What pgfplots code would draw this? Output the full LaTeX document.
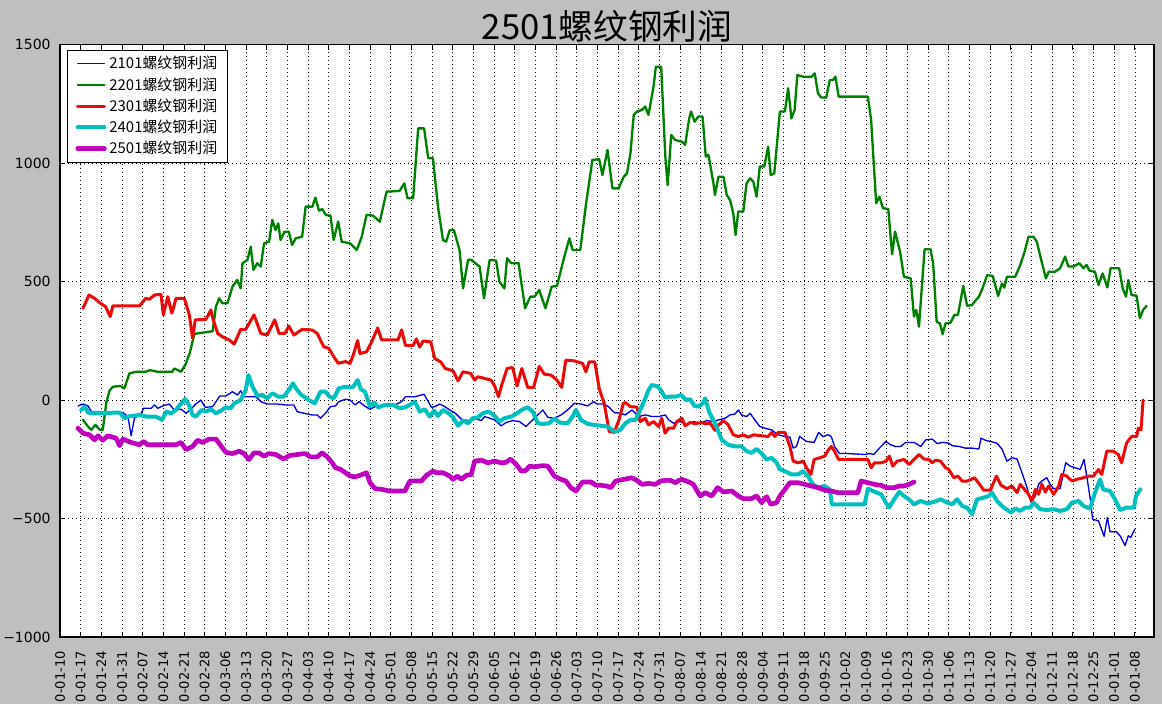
\documentclass[border=0pt]{standalone}
\usepackage{fontspec}
\setmainfont{DejaVu Sans}
\newfontfamily\cjk{Noto Sans CJK SC}
\usepackage{pgfplots}
\pgfplotsset{compat=1.18}
\definecolor{bgray}{RGB}{191,191,191}
\definecolor{cB}{RGB}{0,0,230}
\definecolor{cG}{RGB}{0,128,0}
\definecolor{cR}{RGB}{235,10,10}
\definecolor{cC}{RGB}{0,191,191}
\definecolor{cM}{RGB}{191,0,191}
\begin{document}
\begin{tikzpicture}
\fill[bgray] (0,0) rectangle (871.5pt,528pt);
\useasboundingbox (0,0) rectangle (871.5pt,528pt);
\begin{axis}[
  at={(45pt,50.25pt)}, anchor=south west,
  width=820.5pt, height=444.4pt, scale only axis,
  xmin=0, xmax=370.5, ymin=-1000, ymax=1500,
  axis background/.style={fill=white},
  axis line style={line width=0.8pt},
  tick align=inside, major tick length=4pt,
  tick style={black, line width=0.6pt},
  grid=major,
  major grid style={black, line width=0.45pt, dash pattern=on 1pt off 2pt},
  xtick={0,7,...,364},
  xticklabels={0-01-10,0-01-17,0-01-24,0-01-31,0-02-07,0-02-14,0-02-21,0-02-28,0-03-06,0-03-13,0-03-20,0-03-27,0-04-03,0-04-10,0-04-17,0-04-24,0-05-01,0-05-08,0-05-15,0-05-22,0-05-29,0-06-05,0-06-12,0-06-19,0-06-26,0-07-03,0-07-10,0-07-17,0-07-24,0-07-31,0-08-07,0-08-14,0-08-21,0-08-28,0-09-04,0-09-11,0-09-18,0-09-25,0-10-02,0-10-09,0-10-16,0-10-23,0-10-30,0-11-06,0-11-13,0-11-20,0-11-27,0-12-04,0-12-11,0-12-18,0-12-25,0-01-01,0-01-08},
  xticklabel style={rotate=90, anchor=east, font=\fontsize{9.8}{10}\selectfont},
  xticklabel shift=7pt,
  ytick={-1000,-500,0,500,1000,1500},
  yticklabels={−1000,−500,0,500,1000,1500},
  yticklabel style={font=\fontsize{10.5}{12}\selectfont},
  yticklabel shift=3.5pt,
  title={\cjk 2501螺纹钢利润},
  title style={font=\fontsize{26}{30}\selectfont, anchor=base, at={(0.5,1)}, yshift=-2.5pt},
  legend style={at={(0,1)}, anchor=north west, xshift=5.25pt, yshift=-4.1pt,
    draw=black, line width=0.6pt, fill=white,
    font=\cjk\fontsize{11.2}{13}\selectfont, row sep=1pt,
    inner xsep=6pt, inner ysep=2.5pt},
  legend cell align=left,
  legend image code/.code={\draw[#1] (0pt,0pt) -- (20pt,0pt);},
  every axis plot/.append style={line join=round, line cap=round},
]
% 2101
\addplot[cB, line width=1.0pt] coordinates {
(6.1,-25) (7.8,-17) (9.5,-25) (10.6,-49) (14,-49) (16.8,-56) (21.3,-53) (23,-70) (24.1,-151) (25.2,-77) (27.5,-56) (28.3,-35) (30.9,-35) (32,-21) (33.1,-35) (34.8,-25) (37,-17) (38.7,-42) (41,-39) (42.7,-56) (44.3,-39) (46,-17) (47.7,0) (49.2,-31) (51.7,-28) (54.1,17) (56.2,17) (58.4,35) (60.1,21) (61.2,39) (62.3,14) (66.3,14) (68,-7) (70.2,-17) (73.6,-17) (76.4,-21) (79.2,-21) (80.3,-49) (82.6,-56) (85.4,-63) (87.1,-63) (88.2,-77) (89.9,-56) (91.6,-28) (93.3,-25) (94.4,-7) (96.7,3) (98.2,0) (99.9,-21) (101.3,-7) (103.1,-25) (105,-39) (107.2,-25) (110,-21) (112.8,-25) (115.7,-7) (117,14) (120.2,14) (123.3,24) (125.8,-31) (126.9,-28) (128.6,-17) (130.3,-28) (132,-42) (133.9,-56) (135.9,-81) (138.2,-87) (140.4,-77) (142.7,-87) (143.8,-70) (145.5,-77) (147.2,-84) (149.4,-109) (151.1,-95) (153.3,-87) (155.6,-91) (157.8,-112) (159.5,-91) (161.8,-63) (163.5,-42) (165.2,-73) (167.4,-77) (169.7,-63) (171.9,-42) (174.2,-14) (176.4,-17) (178.7,-25) (180.7,-7) (182,-17) (184.3,-17) (186,-31) (187.7,-53) (189.8,-56) (191.5,-63) (193.7,-42) (196,-70) (198.2,-63) (200.5,-70) (202.7,-70) (205,-63) (206.1,-84) (207.8,-98) (210,-91) (212.3,-105) (214.5,-91) (216.8,-98) (219,-87) (221.3,-91) (223,-84) (225.2,-77) (226.9,-63) (228.6,-59) (229.7,-42) (230.8,-63) (232.5,-70) (233.7,-56) (235.3,-84) (237,-112) (238.7,-119) (241,-126) (243.2,-147) (245.5,-154) (247.2,-157) (248.3,-203) (249.4,-196) (250.5,-154) (252.8,-175) (255.4,-179) (256.9,-137) (258.4,-154) (260.1,-147) (261.2,-154) (262.3,-196) (264,-226) (266.8,-226) (272.5,-230) (274.2,-226) (275.6,-230) (277.5,-203) (279.7,-175) (281.3,-189) (283,-196) (284.7,-196) (286.4,-179) (289.2,-179) (291.5,-196) (293.2,-168) (295.4,-165) (297.1,-184) (298.8,-179) (301,-182) (302.2,-193) (304.4,-196) (306.6,-203) (308.9,-203) (311.2,-207) (311.9,-161) (313.4,-170) (315.1,-175) (317.3,-182) (319,-207) (320.7,-258) (322.4,-244) (324.1,-249) (325.8,-307) (327.5,-370) (328.8,-430) (330.3,-405) (331.4,-356) (332.5,-342) (334.2,-328) (335.3,-356) (336.5,-374) (338.7,-374) (340.6,-265) (342.1,-279) (343.8,-286) (345.5,-293) (346.8,-251) (347.9,-335) (349.1,-433) (349.7,-503) (351.7,-510) (353.6,-575) (354.7,-496) (355.6,-556) (357.8,-556) (359,-573) (360.7,-614) (361.8,-573) (362.6,-580) (364,-545)
};
\addlegendentry{2101螺纹钢利润}
% 2201
\addplot[cG, line width=1.75pt] coordinates {
(7.8,-84) (9.5,-112) (10.6,-126) (12,-105) (13.5,-126) (14.5,-126) (15.7,-10) (16.8,40) (17.9,56) (20.5,59) (21.8,49) (23.5,112) (25.8,119) (29,119) (30.5,126) (33,119) (38,119) (38.7,133) (41,119) (42.5,150) (44,200) (45.5,279) (49.4,286) (51.7,290) (52.8,394) (53.9,429) (55,408) (56.7,408) (58.4,478) (60,506) (61.2,471) (61.8,577) (63.5,591) (64.6,647) (65.5,549) (66.8,577) (68,563) (69.1,661) (70.8,668) (71.9,760) (73,717) (73.9,745) (74.7,675) (76,710) (77.5,710) (78.6,654) (79.8,682) (82,689) (83.2,816) (85.5,816) (86.5,854) (87.7,799) (88.8,806) (90,781) (91.6,778) (92.7,675) (94.2,753) (95.4,668) (98.2,661) (100.5,633) (102.2,689) (103.8,781) (106,778) (108.3,752) (110.6,879) (115,882) (116.6,914) (117.7,851) (119.6,851) (121.3,1146) (123.3,1146) (124.7,1020) (126.3,1020) (128,816) (129.7,675) (130.8,668) (132,717) (133.4,717) (135.3,633) (136.5,471) (138.2,591) (139.3,591) (142.1,563) (143.6,429) (145.5,591) (147.7,588) (148.8,499) (150.5,471) (151.4,598) (152.8,577) (155.3,577) (157.5,387) (159.3,436) (160.7,436) (162.3,464) (164.4,387) (166.5,478) (168.3,481) (170.8,605) (172.5,682) (173.6,633) (176.2,633) (178.1,823) (180.3,1013) (182.6,1016) (183.7,949) (185.4,1055) (187.1,893) (189.2,893) (190.9,942) (192,956) (193.2,1041) (194.3,1203) (195.4,1217) (197.1,1224) (198.2,1238) (199.3,1203) (201,1322) (201.8,1406) (203.6,1406) (205,1027) (205.8,907) (207,1118) (208.3,1097) (210.6,1090) (211.7,1076) (213.1,1188) (213.7,1217) (214.9,1174) (216.2,1196) (217.6,1196) (218.7,1027) (219.6,1034) (221.3,914) (221.8,865) (223,942) (224.7,942) (225.8,865) (226.9,844) (228,788) (228.8,696) (229.7,795) (231.4,795) (232.5,914) (233.7,935) (234.8,921) (235.9,858) (237,985) (238.5,985) (239.8,1069) (240.7,949) (241.9,956) (243.8,1217) (245.5,1217) (246.6,1315) (247.7,1188) (248.8,1224) (249.7,1371) (251.7,1364) (254.5,1364) (255.6,1378) (256.7,1294) (257.8,1276) (259.5,1276) (260.7,1350) (261.8,1350) (262.6,1364) (263.7,1280) (273.6,1280) (274.7,1181) (276.4,830) (277.5,858) (278.7,809) (280.5,806) (281.8,615) (282.8,710) (284.5,626) (285.8,520) (288.1,513) (289.2,352) (290,380) (290.9,309) (292.8,636) (294.8,636) (295.7,577) (296.9,330) (298,323) (298.9,278) (299.9,323) (301.6,326) (302.9,359) (304.1,359) (305.9,481) (307.2,397) (308.9,401) (310,419) (311.2,436) (312.3,467) (314,527) (315.9,523) (317.7,439) (319,492) (319.8,474) (320.7,520) (323.5,520) (325.2,570) (326.6,622) (328,689) (329.7,689) (330.8,668) (332.3,591) (333.9,513) (334.8,541) (337,541) (338.7,556) (340.4,605) (341.5,563) (343.2,563) (345.2,577) (346.6,556) (347.7,570) (348.6,546) (350.5,541) (351.7,485) (353.1,534) (354.7,475) (355.8,556) (358.7,556) (359.9,471) (361,436) (361.8,506) (362.9,443) (364.6,440) (365.7,345) (366.8,380) (368,397)
};
\addlegendentry{2201螺纹钢利润}
% 2301
\addplot[cR, line width=2.25pt] coordinates {
(7.8,387) (9.8,443) (11.7,429) (13.4,411) (15.4,394) (17,352) (17.9,397) (27,397) (29,429) (30.3,425) (32,443) (34.2,446) (35,359) (36.5,436) (37.9,366) (39.3,429) (42.1,429) (43.8,359) (44.9,260) (45.8,338) (49.4,340) (51.1,380) (51.9,338) (53.4,281) (55,267) (57.3,253) (59,236) (61.2,298) (62.9,298) (65.7,359) (68,281) (70.2,274) (72.7,338) (74.2,281) (76.2,281) (77.5,312) (79.2,274) (82,298) (85.4,295) (87.1,281) (89.3,225) (91,218) (92.7,183) (94.2,155) (96.7,162) (98.2,154) (99.3,189) (100.8,251) (101.6,196) (103.8,203) (105.5,244) (107.6,304) (108.9,254) (114.5,254) (115.7,296) (117,230) (119.6,230) (120.7,258) (121.8,223) (123,249) (125.6,245) (126.9,175) (128.9,161) (130.5,133) (133.1,123) (134.8,81) (136.5,119) (139.1,112) (140.4,84) (141.5,98) (143.8,91) (146,84) (147.2,59) (148.5,14) (149.6,63) (151.4,133) (153.3,137) (154.8,59) (156.4,133) (158.4,53) (160.4,53) (162.3,142) (164,109) (166.3,105) (168.3,84) (169.9,53) (171.3,168) (174.2,165) (177,154) (178.1,119) (179.2,161) (181.1,161) (182.6,49) (184.3,-14) (186,-133) (187.7,-137) (189.3,-84) (190.8,-14) (191.5,-11) (193.2,-28) (195.4,-30) (196.5,-91) (198.2,-77) (199.3,-105) (201,-91) (202.7,-112) (203.8,-77) (204.9,-140) (206.1,-119) (207.8,-119) (208.9,-91) (210.6,-77) (211.7,-109) (213.4,-95) (215.1,-100) (217.3,-95) (218.5,-100) (220.2,-98) (221.8,-128) (223,-105) (224.7,-87) (226.3,-105) (228,-147) (229.7,-154) (231.4,-147) (233.1,-157) (234.8,-147) (237.6,-151) (239.8,-154) (241,-137) (242.1,-154) (243.2,-137) (245.5,-137) (247.2,-196) (248.3,-258) (250,-265) (251.7,-258) (252.8,-286) (254.3,-314) (255.4,-251) (257.3,-244) (259,-237) (260.1,-212) (261.2,-196) (262.3,-216) (263.7,-251) (273.6,-251) (274.7,-286) (275.8,-265) (278.1,-265) (279.8,-258) (280.9,-237) (282,-279) (283.5,-258) (285.8,-251) (287.5,-272) (289.2,-251) (290.9,-230) (292.6,-249) (294.3,-251) (295.4,-265) (296.5,-254) (298.2,-258) (299.9,-286) (301,-293) (302.7,-328) (304.1,-321) (305.5,-342) (307.2,-342) (308.6,-335) (309.7,-328) (311.2,-352) (312.8,-380) (315.1,-380) (317.1,-321) (318.7,-360) (320.7,-374) (322.4,-363) (324.1,-391) (325.2,-356) (326.6,-377) (328,-398) (329.2,-426) (330.3,-377) (331.4,-398) (332.5,-356) (333.7,-388) (334.8,-363) (336.5,-398) (338.2,-363) (339.3,-314) (341,-321) (342.7,-342) (344.3,-335) (346.6,-328) (348.3,-321) (350,-321) (351.7,-293) (352.8,-314) (354.5,-216) (356.7,-216) (358.4,-230) (359.5,-265) (361.2,-182) (362.9,-154) (364.6,-154) (365.2,-119) (366.1,-126) (366.8,0)
};
\addlegendentry{2301螺纹钢利润}
% 2401
\addplot[cC, line width=3pt] coordinates {
(7.2,-42) (8.4,-28) (9.5,-53) (11.2,-56) (20.2,-53) (21.9,-77) (23,-70) (26.9,-63) (29.2,-70) (32.5,-70) (34.6,-84) (35.9,-49) (37.6,-56) (39.3,-42) (40.6,-21) (42.4,4) (43.8,-25) (44.9,-63) (46,-70) (48,-42) (49.4,-49) (51.1,-39) (52.8,-56) (54.5,-45) (56.2,-31) (57.8,-35) (59,-14) (61.2,0) (62.9,42) (63.8,105) (65.2,56) (66.9,17) (68.5,21) (70.2,7) (71.9,28) (73.9,14) (75.8,14) (77.5,42) (78.9,70) (80.3,42) (81.8,21) (84.3,0) (86.3,-14) (88.2,35) (89.9,35) (91.3,14) (92.7,7) (94.4,49) (96.7,56) (98.2,53) (99.3,56) (100.8,84) (101.9,45) (103.3,35) (105,-28) (106.4,-11) (107.8,-31) (110,-21) (112.8,-21) (115.1,-35) (116.8,-31) (118.5,-21) (120.2,-7) (121.8,-49) (123.5,-39) (125.2,-70) (126.7,-45) (128,-67) (129.7,-42) (131.6,-56) (133.1,-73) (134.8,-109) (136.5,-87) (138.2,-98) (139.8,-77) (141.5,-73) (143.2,-56) (145.1,-49) (146.9,-63) (148.8,-91) (150.5,-77) (152.8,-70) (154.8,-56) (156.7,-39) (158.4,-31) (160.1,-49) (161.8,-98) (163.5,-101) (165.7,-98) (167.4,-77) (169.1,-95) (171.9,-98) (173.6,-70) (174.7,-42) (176.4,-84) (178.7,-101) (180.9,-105) (183.2,-109) (185.4,-112) (187.7,-133) (189.8,-126) (191.5,-98) (193.2,-84) (194.9,-84) (196.5,-42) (198,0) (199.3,42) (200.4,63) (202.2,59) (203.3,45) (204.9,11) (206.2,14) (208.5,14) (210.3,21) (212,0) (213.4,3) (214.9,-25) (216.3,-28) (217.7,-14) (218.5,7) (219.8,-49) (221.8,-98) (224.1,-168) (226.3,-189) (228.6,-196) (230.8,-196) (232.5,-216) (234.2,-223) (235.9,-207) (237.6,-226) (239.3,-251) (241,-244) (242.7,-265) (243.8,-293) (245.5,-300) (247.7,-314) (250,-314) (251.7,-300) (253.3,-321) (255,-356) (256.7,-370) (258.9,-363) (260.7,-377) (261.4,-440) (264.6,-440) (272.5,-440) (273.6,-374) (275.3,-384) (278.1,-398) (279.7,-433) (280.8,-454) (282.5,-419) (284.2,-388) (285.8,-405) (287.5,-419) (289.2,-440) (291.5,-426) (293.7,-436) (296,-430) (298.2,-419) (300.5,-433) (302.2,-440) (303.8,-419) (305.5,-447) (307.2,-454) (308.9,-482) (310.6,-419) (312.8,-412) (314.5,-405) (315.6,-391) (317.3,-426) (319.6,-454) (322.1,-475) (323.5,-458) (325.2,-468) (326.9,-454) (328.6,-454) (329.7,-433) (332,-461) (334.2,-464) (336.5,-461) (338.7,-468) (341,-461) (342.7,-433) (344.9,-426) (346.6,-447) (348.8,-458) (350.5,-391) (352.2,-335) (353.3,-377) (355.6,-384) (357.3,-419) (359,-464) (361.2,-454) (363.7,-454) (364.4,-405) (365.9,-377)
};
\addlegendentry{2401螺纹钢利润}
% 2501
\addplot[cM, line width=3.5pt] coordinates {
(6.1,-119) (7.8,-140) (10,-147) (11.7,-168) (12.9,-151) (14.5,-170) (16.2,-151) (19,-161) (20.2,-193) (21.3,-165) (24.1,-179) (26.9,-189) (28.3,-175) (29.7,-189) (39.3,-189) (41,-179) (42.7,-209) (44.9,-196) (46.6,-170) (48.3,-179) (50.5,-165) (52.8,-165) (54.5,-193) (56.2,-221) (58.4,-226) (60.7,-216) (62.3,-226) (64,-251) (65.7,-223) (67.4,-223) (69.1,-237) (70.8,-226) (73,-230) (75.8,-249) (77.5,-235) (80.3,-230) (82.9,-226) (84.9,-240) (87.1,-240) (88.8,-223) (90.5,-240) (92.2,-265) (93.3,-286) (95,-293) (96.7,-307) (98.2,-321) (99.9,-324) (101.6,-318) (103.8,-307) (105,-349) (106.7,-374) (108.9,-377) (111.7,-384) (116.8,-384) (118.5,-342) (122.4,-342) (124.1,-318) (126.3,-300) (127.5,-307) (129.7,-307) (132,-321) (133.1,-335) (134.6,-321) (135.9,-335) (137.6,-318) (139.3,-314) (140.4,-258) (142.7,-254) (144.9,-265) (147.2,-258) (149.4,-265) (151.1,-263) (152.6,-249) (154.5,-272) (156.2,-300) (157.8,-297) (159,-279) (160.7,-282) (163.5,-277) (165.2,-279) (167.4,-321) (169.7,-335) (171.3,-342) (173,-370) (174.7,-384) (177,-346) (179.8,-346) (181.5,-360) (183.2,-360) (185.2,-363) (186.5,-370) (188.2,-342) (190.8,-335) (193.7,-328) (195.4,-339) (197.1,-356) (199.3,-352) (201.6,-356) (203.3,-342) (205,-339) (206.7,-339) (208.5,-349) (209.6,-339) (210.6,-335) (213,-346) (214.5,-356) (216.8,-405) (218.5,-391) (220.7,-405) (222.7,-370) (224.7,-388) (227.5,-384) (229.7,-405) (231.4,-416) (234.2,-416) (235.9,-405) (237.6,-433) (239.3,-408) (240.7,-440) (242.7,-433) (243.8,-405) (245.5,-377) (247.2,-349) (250,-349) (252.2,-356) (254.5,-363) (256.7,-370) (258.9,-380) (261.2,-384) (263.5,-391) (270.2,-391) (271.3,-342) (273.6,-349) (275.8,-356) (278.1,-360) (279.8,-370) (282.5,-370) (284.2,-363) (285.8,-363) (287.5,-356) (289.2,-346)
};
\addlegendentry{2501螺纹钢利润}
\end{axis}
\end{tikzpicture}
\end{document}
